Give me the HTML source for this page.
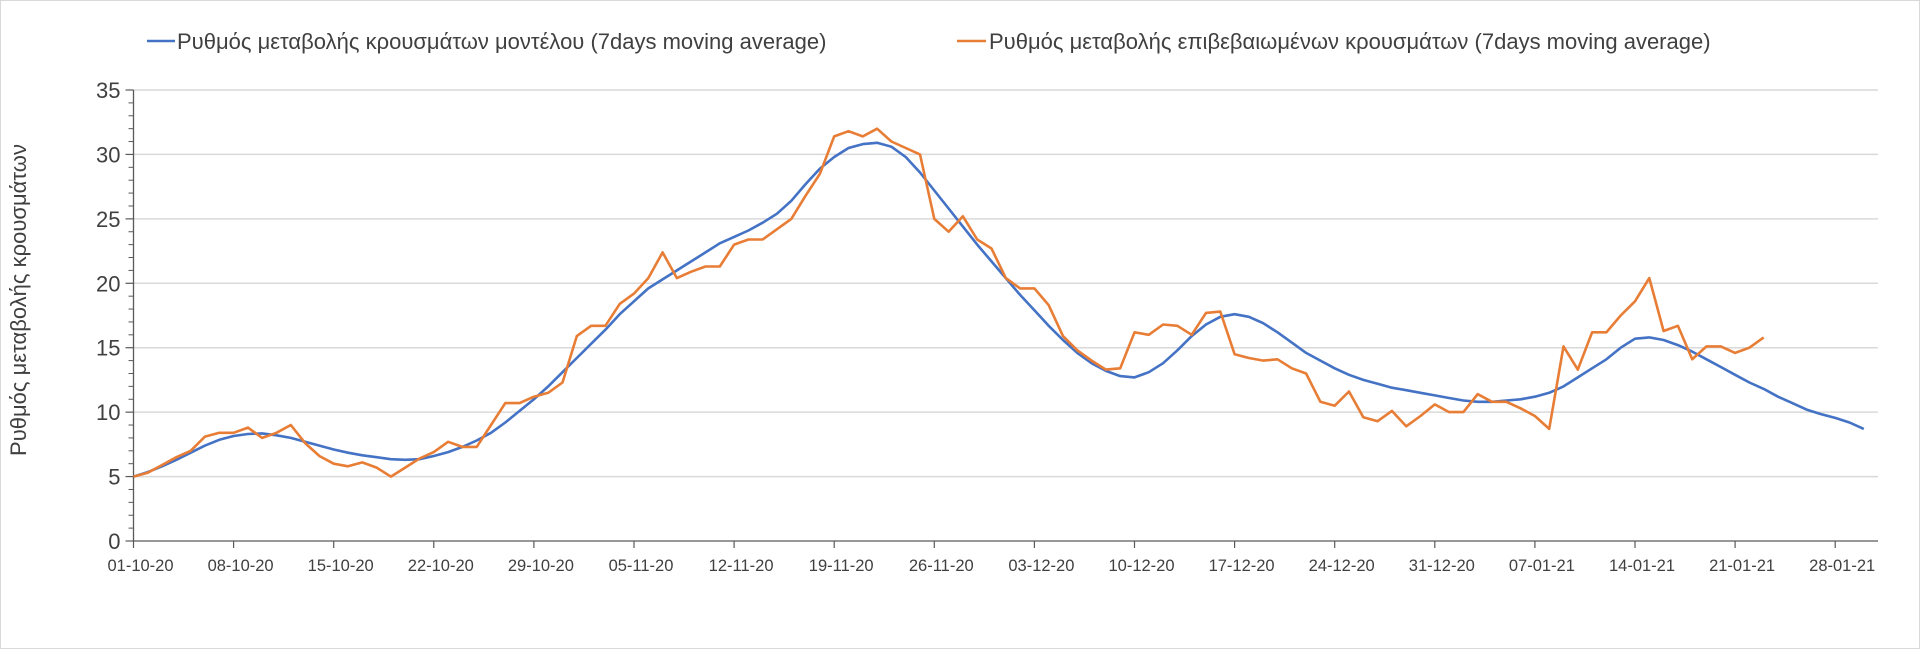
<!DOCTYPE html>
<html><head><meta charset="utf-8">
<style>
html,body{margin:0;padding:0;background:#fff;}
#wrap{position:relative;width:1920px;height:649px;overflow:hidden;font-family:"Liberation Sans",sans-serif;}
svg text{font-family:"Liberation Sans",sans-serif;}
</style></head>
<body>
<div id="wrap">
<svg id="chart" width="1920" height="649"></svg>
</div>
<script>
const tickDays = [0,7,14,21,28,35,42,49,56,63,70,77,84,91,98,105,112,119];
const tickLabels = ["01-10-20","08-10-20","15-10-20","22-10-20","29-10-20","05-11-20","12-11-20","19-11-20","26-11-20","03-12-20","10-12-20","17-12-20","24-12-20","31-12-20","07-01-21","14-01-21","21-01-21","28-01-21"];
const yTicks = [0,5,10,15,20,25,30,35];
const modelSeries = [
5.0,5.35,5.8,6.3,6.85,7.4,7.85,8.15,8.3,8.35,
8.2,8.0,7.7,7.4,7.1,6.85,6.65,6.5,6.35,6.3,
6.35,6.6,6.9,7.3,7.8,8.4,9.2,10.1,11.0,12.0,
13.1,14.2,15.3,16.4,17.6,18.6,19.6,20.3,21.0,21.7,
22.4,23.1,23.6,24.1,24.7,25.4,26.4,27.7,28.9,29.8,
30.5,30.8,30.9,30.6,29.8,28.6,27.2,25.8,24.4,23.0,
21.7,20.4,19.1,17.9,16.7,15.6,14.6,13.8,13.2,12.8,
12.7,13.1,13.8,14.8,15.9,16.8,17.4,17.6,17.4,16.9,
16.2,15.4,14.6,14.0,13.4,12.9,12.5,12.2,11.9,11.7,
11.5,11.3,11.1,10.9,10.8,10.8,10.9,11.0,11.2,11.5,
12.0,12.7,13.4,14.1,15.0,15.7,15.8,15.6,15.2,14.7,
14.1,13.5,12.9,12.3,11.8,11.2,10.7,10.2,9.85,9.55,
9.2,8.7];
const confirmedSeries = [5.0,5.3,5.9,6.5,7.0,8.1,8.4,8.4,8.8,8.0,8.4,9.0,7.6,6.6,6.0,5.8,6.1,5.7,5.0,5.7,6.4,6.9,7.7,7.3,7.3,9.0,10.7,10.7,11.2,11.5,12.3,15.9,16.7,16.7,18.4,19.2,20.4,22.4,20.4,20.9,21.3,21.3,23.0,23.4,23.4,24.2,25.0,26.8,28.5,31.4,31.8,31.4,32.0,31.0,30.5,30.0,25.0,24.0,25.2,23.4,22.7,20.4,19.6,19.6,18.3,15.9,14.8,14.0,13.3,13.4,16.2,16.0,16.8,16.7,16.0,17.7,17.8,14.5,14.2,14.0,14.1,13.4,13.0,10.8,10.5,11.6,9.6,9.3,10.1,8.9,9.7,10.6,10.0,10.0,11.4,10.8,10.8,10.3,9.7,8.7,15.1,13.3,16.2,16.2,17.5,18.6,20.4,16.3,16.7,14.1,15.1,15.1,14.6,15.0,15.8];

const NS="http://www.w3.org/2000/svg";
const svg=document.getElementById('chart');
const X0=133.5, X1=1878, Y0=541, Y35=90, DAYPX=14.30;
function xs(d){return X0+d*DAYPX;}
function ys(v){return Y0-(v/35)*(Y0-Y35);}
function mk(tag,attrs){const e=document.createElementNS(NS,tag);for(const k in attrs)e.setAttribute(k,attrs[k]);svg.appendChild(e);return e;}

let fr=mk('rect',{x:0.5,y:0.5,width:1919,height:648,fill:'#fff',stroke:'#d9d9d9'});



yTicks.forEach(v=>{
  if(v>0){const g=mk('line',{x1:X0,x2:X1,y1:ys(v),y2:ys(v),stroke:'#d9d9d9','stroke-width':1.5});
  
  }
  const t=mk('text',{x:X0-13,y:ys(v)+8,'text-anchor':'end','font-size':22,fill:'#404040'});
  t.textContent=v;
  
  
  const tk=mk('line',{x1:X0-8,x2:X0,y1:ys(v),y2:ys(v),stroke:'#595959','stroke-width':1.2});
  
  
});
for(let v=1;v<35;v++){if(v%5===0)continue;
  const m=mk('line',{x1:X0-5,x2:X0,y1:ys(v),y2:ys(v),stroke:'#595959','stroke-width':1});
  
  }

let ya=mk('line',{x1:X0,x2:X0,y1:Y35,y2:Y0,stroke:'#595959','stroke-width':1.3});


let xa=mk('line',{x1:X0,x2:X1,y1:Y0,y2:Y0,stroke:'#595959','stroke-width':1.3});



tickDays.forEach((d,i)=>{
  const tk=mk('line',{x1:xs(d),x2:xs(d),y1:Y0,y2:Y0+7,stroke:'#595959','stroke-width':1.2});
  
  
  const t=mk('text',{x:xs(d)+7,y:571,'text-anchor':'middle','font-size':16.5,fill:'#404040'});
  t.textContent=tickLabels[i];
  
  
});

let yt=mk('text',{x:0,y:0,'text-anchor':'middle','font-size':22,fill:'#404040',transform:'translate(26,300) rotate(-90)'});
yt.textContent='Ρυθμός μεταβολής κρουσμάτων';



function line(data,color,name){
  const pts=data.map((v,i)=>xs(i).toFixed(1)+','+ys(v).toFixed(1)).join(' ');
  const p=mk('polyline',{points:pts,fill:'none',stroke:color,'stroke-width':2.6,'stroke-linejoin':'round'});
  
  
}
line(modelSeries,'#4472c4','model-series-line');
line(confirmedSeries,'#e87d36','confirmed-series-line');

let l1=mk('line',{x1:147,x2:175,y1:41,y2:41,stroke:'#4472c4','stroke-width':2.6});


let t1=mk('text',{x:177,y:49,'font-size':22,fill:'#404040'});
t1.textContent='Ρυθμός μεταβολής κρουσμάτων μοντέλου (7days moving average)';


let l2=mk('line',{x1:957,x2:986,y1:41,y2:41,stroke:'#e87d36','stroke-width':2.6});


let t2=mk('text',{x:989,y:49,'font-size':22,fill:'#404040'});
t2.textContent='Ρυθμός μεταβολής επιβεβαιωμένων κρουσμάτων (7days moving average)';


</script>
</body></html>
